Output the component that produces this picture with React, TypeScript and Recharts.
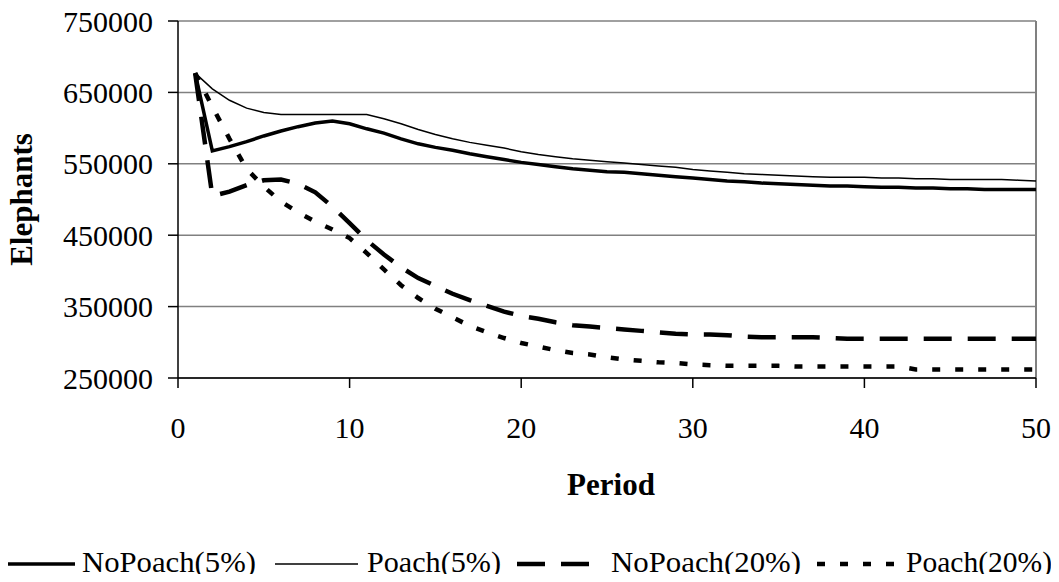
import React from "react";
import {
  CartesianGrid,
  Label,
  Line,
  LineChart,
  ReferenceLine,
  XAxis,
  YAxis,
} from "recharts";

const periods = [
  1, 2, 3, 4, 5, 6, 7, 8, 9, 10, 11, 12, 13, 14, 15, 16, 17, 18, 19, 20, 21,
  22, 23, 24, 25, 26, 27, 28, 29, 30, 31, 32, 33, 34, 35, 36, 37, 38, 39, 40,
  41, 42, 43, 44, 45, 46, 47, 48, 49, 50,
];

const noPoach5 = [
  677000, 568000, 574000, 581000, 589000, 596000, 602000, 607000, 610000,
  606000, 599000, 593000, 585000, 578000, 573000, 569000, 564000, 560000,
  556000, 552000, 549000, 546000, 543000, 541000, 539000, 538000, 536000,
  534000, 532000, 530000, 528000, 526000, 525000, 523000, 522000, 521000,
  520000, 519000, 519000, 518000, 517000, 517000, 516000, 516000, 515000,
  515000, 514000, 514000, 514000, 514000,
];

const poach5 = [
  677000, 655000, 639000, 628000, 622000, 619000, 619000, 619000, 619000,
  619000, 619000, 613000, 606000, 598000, 591000, 585000, 580000, 576000,
  572000, 567000, 563000, 560000, 557000, 555000, 553000, 551000, 549000,
  547000, 545000, 542000, 540000, 538000, 536000, 535000, 534000, 533000,
  532000, 531000, 531000, 531000, 530000, 530000, 529000, 529000, 528000,
  528000, 528000, 528000, 527000, 526000,
];

const noPoach20 = [
  677000, 505000, 511000, 520000, 527000, 528000, 522000, 510000, 490000,
  467000, 443000, 423000, 405000, 390000, 379000, 368000, 359000, 351000,
  343000, 337000, 333000, 328000, 324000, 322000, 320000, 318000, 316000,
  314000, 312000, 311000, 311000, 310000, 308000, 307000, 307000, 307000,
  307000, 306000, 305000, 305000, 305000, 305000, 305000, 305000, 305000,
  305000, 305000, 305000, 305000, 305000,
];

const poach20 = [
  677000, 630000, 585000, 543000, 518000, 497000, 482000, 469000, 458000,
  446000, 425000, 402000, 380000, 362000, 347000, 335000, 323000, 314000,
  306000, 299000, 294000, 289000, 285000, 283000, 279000, 276000, 274000,
  272000, 271000, 269000, 268000, 267000, 267000, 267000, 267000, 266000,
  266000, 266000, 266000, 266000, 266000, 266000, 262000, 262000, 262000,
  262000, 262000, 262000, 262000, 262000,
];

const xTicks = [0, 10, 20, 30, 40, 50];
const yTicks = [250000, 350000, 450000, 550000, 650000, 750000];

const data = periods.map((p, i) => ({
  period: p,
  noPoach5: noPoach5[i],
  poach5: poach5[i],
  noPoach20: noPoach20[i],
  poach20: poach20[i],
}));

const serif = '"Liberation Serif", "Times New Roman", serif';

const series = [
  { key: "noPoach5", name: "NoPoach(5%)", width: 3.5, dash: undefined, lx: 0, lw: 75, tx: 82, tw: 174 },
  { key: "poach5", name: "Poach(5%)", width: 1.5, dash: undefined, lx: 275, lw: 83, tx: 367, tw: 134 },
  { key: "noPoach20", name: "NoPoach(20%)", width: 4.5, dash: "28 16", lx: 517, lw: 74, tx: 611, tw: 190 },
  { key: "poach20", name: "Poach(20%)", width: 4.5, dash: "8 15", lx: 817, lw: 81, tx: 906, tw: 146 },
];

const YTitle = (props: any) => {
  const { viewBox } = props;
  const cy = viewBox.y + viewBox.height / 2;
  return (
    <text
      x={32}
      y={cy}
      transform={`rotate(-90, 32, ${cy})`}
      textAnchor="middle"
      fontFamily={serif}
      fontWeight="bold"
      fontSize={31}
      fill="#000"
    >
      Elephants
    </text>
  );
};

const XTitle = (props: any) => {
  const { viewBox } = props;
  return (
    <text
      x={viewBox.x + viewBox.width / 2 + 4}
      y={viewBox.y + 117}
      textAnchor="middle"
      fontFamily={serif}
      fontWeight="bold"
      fontSize={31}
      fill="#000"
    >
      Period
    </text>
  );
};

export default function App() {
  return (
    <div style={{ position: "relative", width: 1059, height: 582, margin: -8, background: "#fff" }}>
      <LineChart
        width={1059}
        height={582}
        data={data}
        margin={{ top: 21, right: 23, left: 0, bottom: 104 }}
      >
        <CartesianGrid vertical={false} stroke="#808080" strokeWidth={1.5} />
        <XAxis
          dataKey="period"
          type="number"
          domain={[0, 50]}
          ticks={xTicks}
          height={100}
          axisLine={{ stroke: "#000", strokeWidth: 1.5 }}
          tickLine={{ stroke: "#000", strokeWidth: 1.5 }}
          tickSize={10}
          tickMargin={29}
          tick={{ fill: "#000", fontSize: 30, fontFamily: serif }}
        >
          <Label content={XTitle} />
        </XAxis>
        <YAxis
          type="number"
          domain={[250000, 750000]}
          ticks={yTicks}
          width={178}
          axisLine={{ stroke: "#000", strokeWidth: 1.5 }}
          tickLine={{ stroke: "#000", strokeWidth: 1.5 }}
          tickSize={10}
          tickMargin={15}
          tick={{ fill: "#000", fontSize: 30, fontFamily: serif }}
        >
          <Label content={YTitle} />
        </YAxis>
        <ReferenceLine x={50} stroke="#808080" strokeWidth={2} />
        {series.map((s) => (
          <Line
            key={s.key}
            dataKey={s.key}
            name={s.name}
            type="linear"
            stroke="#000"
            strokeWidth={s.width}
            strokeDasharray={s.dash}
            dot={false}
            activeDot={false}
            isAnimationActive={false}
          />
        ))}
      </LineChart>
      <svg
        width={1059}
        height={52}
        style={{ position: "absolute", left: 0, top: 528 }}
      >
        {series.map((s) => (
          <g key={s.key}>
            <line
              x1={s.lx}
              x2={s.lx + s.lw}
              y1={36}
              y2={36}
              stroke="#000"
              strokeWidth={s.width}
              strokeDasharray={s.dash}
            />
            <text
              x={s.tx}
              y={44}
              fontFamily={serif}
              fontSize={30}
              textLength={s.tw}
              lengthAdjust="spacingAndGlyphs"
              fill="#000"
            >
              {s.name}
            </text>
          </g>
        ))}
      </svg>
    </div>
  );
}
